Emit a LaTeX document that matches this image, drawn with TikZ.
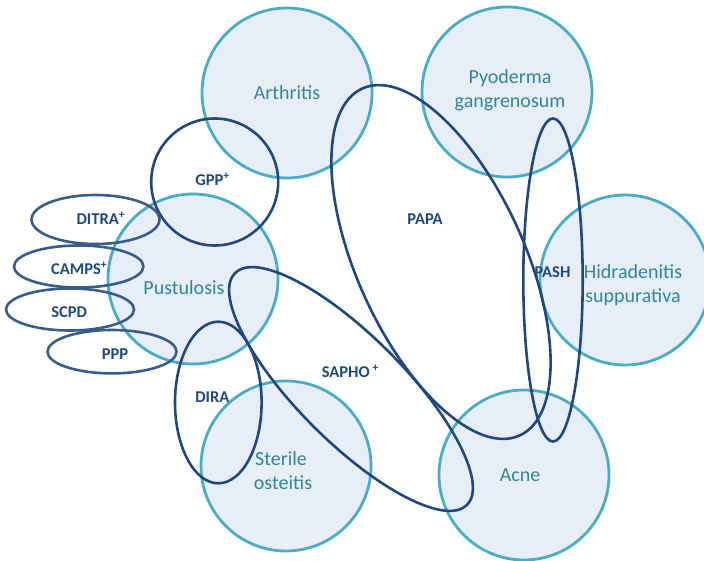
\documentclass[tikz,border=0pt]{standalone}
\usepackage{fontspec}
\setmainfont{Carlito}
\definecolor{circfill}{HTML}{E8EEF7}
\definecolor{circline}{HTML}{4BACC6}
\definecolor{circtext}{HTML}{31859C}
\definecolor{loopdark}{HTML}{1F497D}
\definecolor{loopmid}{HTML}{385D8A}
\tikzset{
  disease/.style={circle, draw=circline, fill=circfill, line width=2.8pt, minimum size=170pt, inner sep=0pt},
  loopline/.style={draw=loopdark, line width=2.6pt},
  smallloop/.style={draw=loopmid, line width=2.6pt},
  dlabel/.style={text=circtext, font=\fontsize{20}{23.4}\selectfont, anchor=base, inner sep=0pt},
  slabel/.style={text=loopdark, font=\bfseries\fontsize{16.5}{18}\selectfont, anchor=base, inner sep=0pt}
}
\begin{document}
\begin{tikzpicture}[x=1pt,y=-1pt]
\useasboundingbox (0,0) rectangle (704,561);
% disease circles
\node[disease] (arth) at (287,93) {};
\node[disease] (pyo) at (507,92) {};
\node[disease] (hid) at (625,280) {};
\node[disease] (acne) at (524,475) {};
\node[disease] (ster) at (286,466) {};
\node[disease] (pust) at (193,279) {};
% disease labels
\node[dlabel] (tarth) at (287,99.3) {Arthritis};
\node[dlabel] (tpyo1) at (510,84) {Pyoderma};
\node[dlabel] (tpyo2) at (510,107.3) {gangrenosum};
\node[dlabel] (thid1) at (633,278.3) {Hidradenitis};
\node[dlabel] (thid2) at (633,302.7) {suppurativa};
\node[dlabel] (tpust) at (184,294.3) {Pustulosis};
\node[dlabel] (tster1) at (281,465.7) {Sterile};
\node[dlabel] (tster2) at (283,489.3) {osteitis};
\node[dlabel] (tacne) at (520,481.7) {Acne};
% syndrome loops
\draw[loopline] (214.7,182) circle[radius=63.5];
\draw[loopline, rotate around={-65.6:(441,262)}] (441,262) ellipse [x radius=190.5, y radius=83.8];
\draw[loopline, rotate around={-45:(351,389)}] (351,389) ellipse [x radius=164, y radius=53];
\draw[loopline] (553,280) ellipse [x radius=29.7, y radius=161.5];
\draw[loopline] (218.3,402.5) ellipse [x radius=43.3, y radius=80.8];
\draw[smallloop] (95.5,219.5) ellipse [x radius=64, y radius=24.5];
\draw[smallloop] (78.7,266.5) ellipse [x radius=64.7, y radius=21];
\draw[smallloop] (70,309.5) ellipse [x radius=64, y radius=21];
\draw[smallloop] (112,351.7) ellipse [x radius=64.5, y radius=21.7];
% syndrome labels
\node[slabel] (lgpp) at (212.5,185.3) {GPP\textsuperscript{+}};
\node[slabel] (lpapa) at (425,225) {PAPA};
\node[slabel] (lpash) at (552.5,277.7) {PASH};
\node[slabel] (lditra) at (100.8,224.3) {DITRA\textsuperscript{+}};
\node[slabel] (lcamps) at (79.2,275) {CAMPS\textsuperscript{+}};
\node[slabel] (lscpd) at (69.2,317.7) {SCPD};
\node[slabel] (lppp) at (115,359.3) {PPP};
\node[slabel] (ldira) at (212.3,402.3) {DIRA};
\node[slabel] (lsapho) at (350.3,377.3) {SAPHO\,\textsuperscript{+}};
\end{tikzpicture}
\end{document}
